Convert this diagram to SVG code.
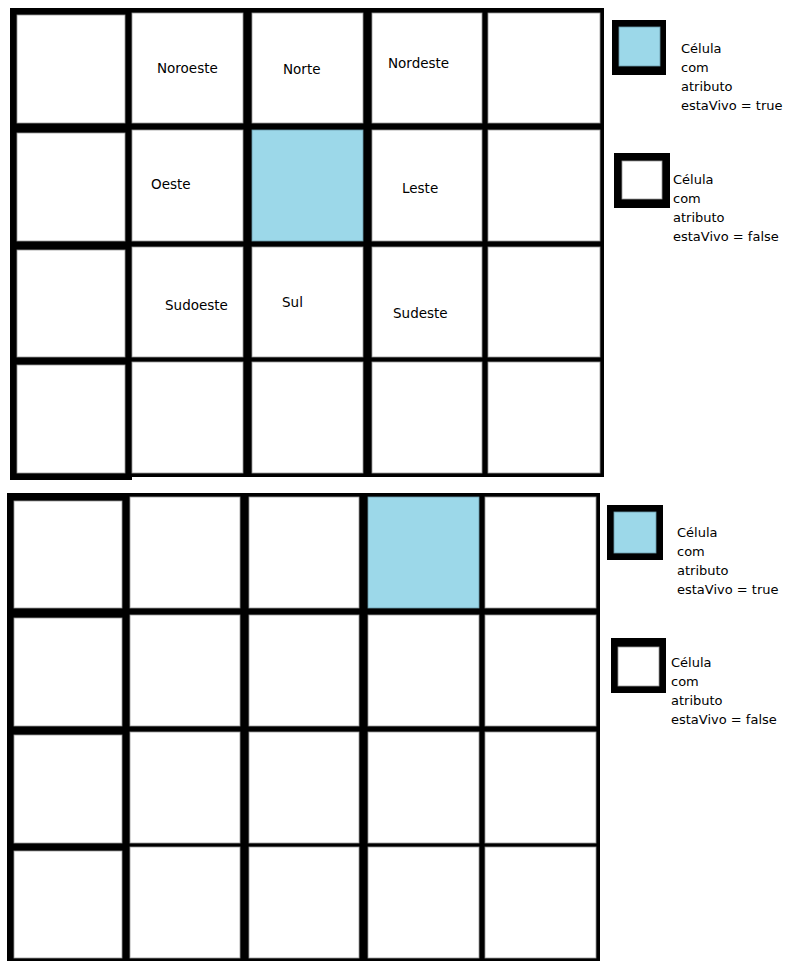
<svg xmlns="http://www.w3.org/2000/svg" width="785" height="961" viewBox="0 0 785 961">
<style>
.frame{fill:#000}
.cell{fill:#fff;stroke:#9a9a9a;stroke-width:0.8}
.alive{fill:#9cd8e9;stroke:#6a9aa8;stroke-width:0.8}
.lbl{font-family:"DejaVu Sans",Verdana,sans-serif;font-size:13.5px;fill:#000}
.leg{font-family:"DejaVu Sans",Verdana,sans-serif;font-size:13px;fill:#000}
.legbox{fill:#000}
</style>
<rect width="785" height="961" fill="#fff"/>
<g id="grid-top">
<path class="frame" d="M10 8H604V477H132V480H10Z"/>
<g id="t-r1c1"><rect class="cell" x="17" y="15" width="108" height="108"/></g>
<g id="t-r1c2"><rect class="cell" x="132" y="13" width="111" height="110"/><text class="lbl" x="157" y="73">Noroeste</text></g>
<g id="t-r1c3"><rect class="cell" x="252" y="13" width="111" height="110"/><text class="lbl" x="283" y="74">Norte</text></g>
<g id="t-r1c4"><rect class="cell" x="372" y="13" width="110" height="110"/><text class="lbl" x="388" y="68">Nordeste</text></g>
<g id="t-r1c5"><rect class="cell" x="488" y="13" width="112" height="110"/></g>
<g id="t-r2c1"><rect class="cell" x="17" y="133" width="108" height="108"/></g>
<g id="t-r2c2"><rect class="cell" x="132" y="130" width="111" height="111"/><text class="lbl" x="151" y="189">Oeste</text></g>
<g id="t-r2c3"><rect class="alive" x="252" y="130" width="111" height="111"/></g>
<g id="t-r2c4"><rect class="cell" x="372" y="130" width="110" height="111"/><text class="lbl" x="402" y="193">Leste</text></g>
<g id="t-r2c5"><rect class="cell" x="488" y="130" width="112" height="111"/></g>
<g id="t-r3c1"><rect class="cell" x="17" y="250" width="108" height="107"/></g>
<g id="t-r3c2"><rect class="cell" x="132" y="247" width="111" height="110"/><text class="lbl" x="165" y="310">Sudoeste</text></g>
<g id="t-r3c3"><rect class="cell" x="252" y="247" width="111" height="110"/><text class="lbl" x="282" y="307">Sul</text></g>
<g id="t-r3c4"><rect class="cell" x="372" y="247" width="110" height="110"/><text class="lbl" x="393" y="318">Sudeste</text></g>
<g id="t-r3c5"><rect class="cell" x="488" y="247" width="112" height="110"/></g>
<g id="t-r4c1"><rect class="cell" x="17" y="365" width="108" height="108"/></g>
<g id="t-r4c2"><rect class="cell" x="132" y="362" width="111" height="111"/></g>
<g id="t-r4c3"><rect class="cell" x="252" y="362" width="111" height="111"/></g>
<g id="t-r4c4"><rect class="cell" x="372" y="362" width="110" height="111"/></g>
<g id="t-r4c5"><rect class="cell" x="488" y="362" width="112" height="111"/></g>
</g>
<g id="legend-top-true"><rect class="legbox" x="612" y="20" width="54" height="55"/><rect class="alive" x="619" y="27" width="41" height="39"/>
<text class="leg"><tspan x="681" y="53">Célula</tspan><tspan x="681" y="72">com</tspan><tspan x="681" y="91">atributo</tspan><tspan x="681" y="110">estaVivo = true</tspan></text></g>
<g id="legend-top-false"><rect class="legbox" x="614" y="153" width="56" height="55"/><rect class="cell" x="622" y="161" width="40" height="38"/>
<text class="leg"><tspan x="673" y="184">Célula</tspan><tspan x="673" y="203">com</tspan><tspan x="673" y="222">atributo</tspan><tspan x="673" y="241">estaVivo = false</tspan></text></g>
<g id="grid-bottom">
<path class="frame" d="M7 493H600V961H7Z"/>
<g id="b-r1c1"><rect class="cell" x="14" y="501" width="108" height="107"/></g>
<g id="b-r1c2"><rect class="cell" x="130" y="497" width="110" height="111"/></g>
<g id="b-r1c3"><rect class="cell" x="249" y="497" width="110" height="111"/></g>
<g id="b-r1c4"><rect class="alive" x="368" y="497" width="111" height="111"/></g>
<g id="b-r1c5"><rect class="cell" x="485" y="497" width="111" height="111"/></g>
<g id="b-r2c1"><rect class="cell" x="14" y="618" width="108" height="108"/></g>
<g id="b-r2c2"><rect class="cell" x="130" y="615" width="110" height="111"/></g>
<g id="b-r2c3"><rect class="cell" x="249" y="615" width="110" height="111"/></g>
<g id="b-r2c4"><rect class="cell" x="368" y="615" width="111" height="111"/></g>
<g id="b-r2c5"><rect class="cell" x="485" y="615" width="111" height="111"/></g>
<g id="b-r3c1"><rect class="cell" x="14" y="735" width="108" height="108"/></g>
<g id="b-r3c2"><rect class="cell" x="130" y="732" width="110" height="111"/></g>
<g id="b-r3c3"><rect class="cell" x="249" y="732" width="110" height="111"/></g>
<g id="b-r3c4"><rect class="cell" x="368" y="732" width="111" height="111"/></g>
<g id="b-r3c5"><rect class="cell" x="485" y="732" width="111" height="111"/></g>
<g id="b-r4c1"><rect class="cell" x="14" y="851" width="108" height="107"/></g>
<g id="b-r4c2"><rect class="cell" x="130" y="847" width="110" height="111"/></g>
<g id="b-r4c3"><rect class="cell" x="249" y="847" width="110" height="111"/></g>
<g id="b-r4c4"><rect class="cell" x="368" y="847" width="111" height="111"/></g>
<g id="b-r4c5"><rect class="cell" x="485" y="847" width="111" height="111"/></g>
</g>
<g id="legend-bottom-true"><rect class="legbox" x="607" y="505" width="56" height="55"/><rect class="alive" x="614" y="512" width="42" height="41"/>
<text class="leg"><tspan x="677" y="537">Célula</tspan><tspan x="677" y="556">com</tspan><tspan x="677" y="575">atributo</tspan><tspan x="677" y="594">estaVivo = true</tspan></text></g>
<g id="legend-bottom-false"><rect class="legbox" x="611" y="638" width="55" height="55"/><rect class="cell" x="618" y="647" width="41" height="39"/>
<text class="leg"><tspan x="671" y="667">Célula</tspan><tspan x="671" y="686">com</tspan><tspan x="671" y="705">atributo</tspan><tspan x="671" y="724">estaVivo = false</tspan></text></g>
</svg>
